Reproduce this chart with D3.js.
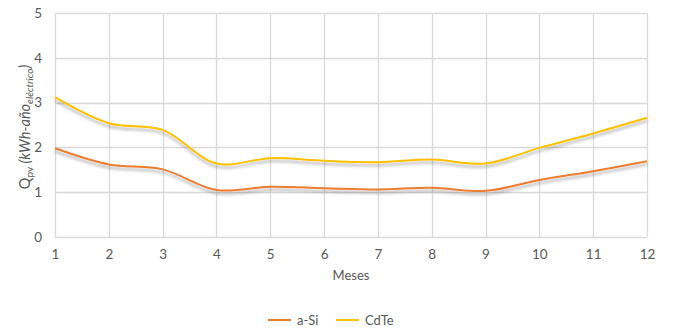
<!DOCTYPE html>
<html>
<head>
<meta charset="utf-8">
<script src="https://cdn.jsdelivr.net/npm/d3@7"></script>
<style>
  html, body { margin: 0; padding: 0; background: #fff; }
  svg { display: block; font-family: Lato, "Open Sans", sans-serif; }
</style>
</head>
<body>
<svg id="chart" width="675" height="332"></svg>
<script>
// Monthly energy per unit of electricity, two PV technologies
const months = [1, 2, 3, 4, 5, 6, 7, 8, 9, 10, 11, 12];
const aSi  = [1.98, 1.62, 1.51, 1.05, 1.12, 1.09, 1.06, 1.10, 1.03, 1.27, 1.47, 1.69];
const cdTe = [3.12, 2.54, 2.39, 1.64, 1.76, 1.70, 1.67, 1.73, 1.64, 1.99, 2.31, 2.66];
const yTicks = [0, 1, 2, 3, 4, 5];
const seriesNames = ["a-Si", "CdTe"];
const seriesColors = ["#ED7D31", "#FFC000"];

const svg = d3.select("#chart");
const margin = { left: 55, right: 28, top: 13, bottom: 95 };
const W = 675, H = 332;

const x = d3.scaleLinear().domain([1, 12]).range([margin.left, W - margin.right]);
const y = d3.scaleLinear().domain([0, 5]).range([H - margin.bottom, margin.top]);

// soft drop shadow under the lines
const defs = svg.append("defs");
const f = defs.append("filter").attr("id", "shadow")
  .attr("x", "-5%").attr("y", "-50%").attr("width", "110%").attr("height", "200%");
f.append("feDropShadow").attr("dx", 0).attr("dy", 3).attr("stdDeviation", 1.6)
  .attr("flood-color", "#000").attr("flood-opacity", 0.3);

// gridlines
const grid = svg.append("g");
grid.selectAll("line.h").data(yTicks).join("line")
  .attr("x1", x(1)).attr("x2", x(12))
  .attr("y1", d => Math.round(y(d)) + 0.5).attr("y2", d => Math.round(y(d)) + 0.5)
  .attr("stroke", "#D9D9D9").attr("stroke-width", 1.3);
grid.selectAll("line.v").data(months).join("line")
  .attr("y1", y(0)).attr("y2", y(5))
  .attr("x1", d => Math.round(x(d)) + 0.5).attr("x2", d => Math.round(x(d)) + 0.5)
  .attr("stroke", "#D9D9D9").attr("stroke-width", 1.3);

// axes
const yAxis = svg.append("g").attr("transform", `translate(${margin.left},0)`)
  .call(d3.axisLeft(y).tickValues(yTicks).tickSize(0).tickPadding(13).tickFormat(d3.format("d")));
const xAxis = svg.append("g").attr("transform", `translate(0,${y(0)})`)
  .call(d3.axisBottom(x).tickValues(months).tickSize(0).tickPadding(12).tickFormat(d3.format("d")));
[yAxis, xAxis].forEach(a => {
  a.select(".domain").remove();
  a.selectAll("text").attr("fill", "#595959").style("font-size", "13.5px")
    .style("font-family", "Lato, 'Open Sans', sans-serif");
});

// lines
const line = d3.line().x((d, i) => x(months[i])).y(d => y(d)).curve(d3.curveCatmullRom.alpha(0.5));
[aSi, cdTe].forEach((vals, k) => {
  svg.append("path").datum(vals)
    .attr("d", line)
    .attr("fill", "none")
    .attr("stroke", seriesColors[k])
    .attr("stroke-width", 2)
    .attr("filter", "url(#shadow)");
});

// axis titles
svg.append("text")
  .attr("x", (x(1) + x(12)) / 2).attr("y", 280)
  .attr("text-anchor", "middle").attr("fill", "#595959")
  .style("font-size", "13px").text("Meses");

const yt = svg.append("text")
  .attr("transform", `translate(30,${y(2.5) + 2}) rotate(-90)`)
  .attr("text-anchor", "middle").attr("fill", "#595959")
  .style("font-size", "14.5px");
yt.append("tspan").text("Q");
yt.append("tspan").attr("baseline-shift", "-25%").style("font-size", "10px").text("pv");
yt.append("tspan").style("font-style", "italic").text(" (kWh-año");
yt.append("tspan").attr("baseline-shift", "-25%").style("font-size", "10px").style("font-style", "italic").text("eléctrico");
yt.append("tspan").style("font-style", "italic").text(")");

// legend
const lg = svg.append("g").attr("transform", "translate(0,320)");
const legendX = [268, 336];
seriesNames.forEach((name, k) => {
  lg.append("line").attr("x1", legendX[k]).attr("x2", legendX[k] + 23)
    .attr("y1", 0).attr("y2", 0).attr("stroke", seriesColors[k]).attr("stroke-width", 2);
  lg.append("text").attr("x", legendX[k] + 29).attr("y", 4.5)
    .attr("fill", "#595959").style("font-size", "13px").text(name);
});
</script>
</body>
</html>
